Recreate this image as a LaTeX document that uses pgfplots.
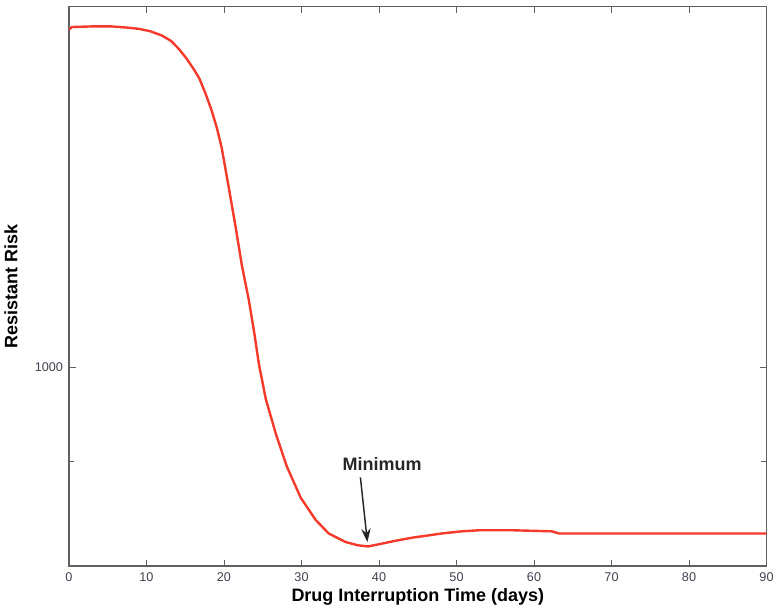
\documentclass[border=0pt]{standalone}
\usepackage{pgfplots}
\pgfplotsset{compat=1.18}
\usetikzlibrary{arrows.meta}
\usepackage{fontspec}
\setmainfont{Liberation Sans}
\definecolor{axgray}{HTML}{606060}
\definecolor{ticktxt}{HTML}{3F4250}
\definecolor{curve}{HTML}{F5392B}

\begin{document}
\begin{tikzpicture}
\begin{axis}[
  scale only axis,
  width=523.5pt, height=420pt,
  ymode=log,
  xmin=0, xmax=90, ymin=800, ymax=1500,
  xtick={0,10,...,90},
  ytick={1000}, yticklabels={1000},
  minor ytick={900},
  tick align=inside,
  major tick length=5pt, minor tick length=4pt,
  axis line style={draw=axgray, line width=1.3pt},
  tick style={draw=axgray, line width=0.7pt},
  tick label style={font=\fontsize{9.5}{10}\selectfont, text=ticktxt},
  /pgf/number format/assume math mode=true,
  xticklabel style={yshift=-1pt},
  yticklabel style={xshift=-1pt},
  xlabel={\bfseries Drug Interruption Time (days)},
  ylabel={\bfseries Resistant Risk},
  label style={font=\fontsize{13.5}{15}\selectfont},
  xlabel style={yshift=1.5pt},
  ylabel style={yshift=6pt},
]
\addplot[curve, line width=1.8pt, line join=round] coordinates {
  (0,1462)(0.4,1466)(3,1467)(5.5,1467)(7.5,1465)(9,1463)(10.5,1459)
  (12,1452)(13.2,1443)(14.2,1430)(15.1,1416)(16,1400)(16.8,1384)
  (17.6,1361)(18.4,1335)(19.1,1308)(19.7,1280)(20.6,1225)(21.5,1171)
  (22.3,1122)(23.2,1079)(23.9,1040)(24.5,1004)(25.4,965)(26.7,928)
  (28.1,895)(29.9,864)(31.8,843)(33.5,830)(35.7,822)(37.3,819)(38.6,818)
  (40,820)(42,823)(44.2,826)(46.2,828)(48.1,830)(50.7,832)(53,833)
  (57.1,833)(62.3,832)(63.2,830)(70,830)(80,830)(90,830)
};
\node[font=\fontsize{13.5}{15}\selectfont\bfseries, text=black!85]
  at (axis cs:40.4,897) {Minimum};
\draw[-{Stealth[length=10pt,width=7pt]}, line width=1.1pt, black!85]
  (axis cs:37.6,884) -- (axis cs:38.5,822);
\end{axis}
\path (current axis.north) ++(0,5pt) coordinate (topgap);
\end{tikzpicture}
\end{document}
